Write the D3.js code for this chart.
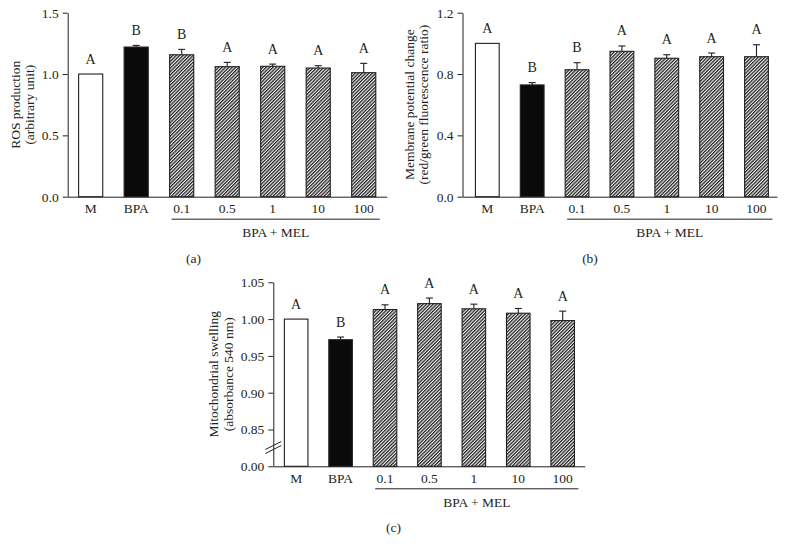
<!DOCTYPE html>
<html>
<head>
<meta charset="utf-8">
<script src="https://cdn.jsdelivr.net/npm/d3@7"></script>
<style>
  html, body { margin: 0; padding: 0; background: #fff; }
  svg { display: block; }
  text { font-family: "Liberation Serif", "DejaVu Serif", serif; fill: #231f20; }
</style>
</head>
<body>
<svg id="chart" width="791" height="553"></svg>
<script>
// ---------- data ----------
const categories = ["M", "BPA", "0.1", "0.5", "1", "10", "100"];
const groupLabel = "BPA + MEL";

const rosValues  = [1.000, 1.220, 1.157, 1.060, 1.063, 1.049, 1.011];
const rosErrors  = [0.000, 0.013, 0.044, 0.035, 0.018, 0.019, 0.076];
const rosLetters = ["A", "B", "B", "A", "A", "A", "A"];
const rosTicks   = [0.0, 0.5, 1.0, 1.5];
const rosTickLabels = ["0.0", "0.5", "1.0", "1.5"];

const mmpValues  = [1.000, 0.729, 0.828, 0.948, 0.903, 0.913, 0.913];
const mmpErrors  = [0.000, 0.015, 0.046, 0.035, 0.023, 0.024, 0.078];
const mmpLetters = ["A", "B", "B", "A", "A", "A", "A"];
const mmpTicks   = [0.0, 0.4, 0.8, 1.2];
const mmpTickLabels = ["0.0", "0.4", "0.8", "1.2"];

const swValues  = [1.000, 0.972, 1.013, 1.021, 1.014, 1.008, 0.998];
const swErrors  = [0.000, 0.0036, 0.0064, 0.0076, 0.0063, 0.0064, 0.0128];
const swLetters = ["A", "B", "A", "A", "A", "A", "A"];
const swTicks   = [0.80, 0.85, 0.90, 0.95, 1.00, 1.05];
const swTickLabels = ["0.00", "0.85", "0.90", "0.95", "1.00", "1.05"];

// ---------- drawing ----------
const svg = d3.select("#chart");
const defs = svg.append("defs");
const P = 2.4;
const pat = defs.append("pattern")
  .attr("id", "hatch")
  .attr("patternUnits", "userSpaceOnUse")
  .attr("width", P).attr("height", P)
  .attr("patternTransform", "rotate(45)");
pat.append("rect").attr("width", P).attr("height", P).attr("fill", "#f4f4f4");
pat.append("rect").attr("x", 0).attr("y", 0).attr("width", 1.25).attr("height", P)
  .attr("fill", "#1e1e1e");

const FS = 13.5;

function panel(cfg) {
  const g = svg.append("g");
  const x = d3.scaleBand().domain(categories)
    .range([cfg.left, cfg.right])
    .paddingInner(0.47).paddingOuter(0.24).align(cfg.align);
  const y = d3.scaleLinear().domain(cfg.domain).range([cfg.bottom, cfg.top]);
  const base = cfg.domain[0];
  const bw = x.bandwidth();

  // y axis
  const yAxis = d3.axisLeft(y).tickValues(cfg.ticks)
    .tickFormat((d, i) => cfg.tickLabels[i])
    .tickSize(5).tickSizeOuter(0).tickPadding(4);
  const ya = g.append("g").attr("transform", `translate(${cfg.left},0)`).call(yAxis);
  ya.attr("font-family", null).attr("font-size", null);
  ya.selectAll("path, line").attr("stroke", "#231f20").attr("stroke-width", 1);
  ya.selectAll("text").attr("font-size", FS);

  // x axis
  const xAxis = d3.axisBottom(x).tickSize(0).tickSizeOuter(0).tickPadding(7);
  const xa = g.append("g").attr("transform", `translate(0,${cfg.bottom})`).call(xAxis);
  xa.attr("font-family", null).attr("font-size", null);
  xa.selectAll("path").attr("stroke", "#231f20").attr("stroke-width", 1);
  xa.selectAll("text").attr("font-size", FS);

  const fills = categories.map((c, i) => i === 0 ? "#fff" : (i === 1 ? "#0a0a0a" : "url(#hatch)"));

  // bars
  g.append("g").selectAll("rect").data(cfg.values).join("rect")
    .attr("x", (d, i) => x(categories[i]))
    .attr("y", d => y(d))
    .attr("width", bw)
    .attr("height", d => y(base) - y(d))
    .attr("fill", (d, i) => fills[i])
    .attr("stroke", "#231f20").attr("stroke-width", 1.1);

  // error bars (upper only)
  const eb = g.append("g").attr("stroke", "#231f20").attr("stroke-width", 1.1);
  cfg.values.forEach((v, i) => {
    const e = cfg.errors[i];
    if (!e) return;
    const cx = x(categories[i]) + bw / 2;
    eb.append("line").attr("x1", cx).attr("x2", cx).attr("y1", y(v)).attr("y2", y(v + e));
    eb.append("line").attr("x1", cx - 3.5).attr("x2", cx + 3.5).attr("y1", y(v + e)).attr("y2", y(v + e));
  });

  // significance letters
  g.append("g").selectAll("text").data(cfg.letters).join("text")
    .attr("x", (d, i) => x(categories[i]) + bw / 2)
    .attr("y", (d, i) => y(cfg.values[i] + cfg.errors[i]) - 10.5)
    .attr("text-anchor", "middle")
    .attr("font-size", FS + 0.5)
    .text(d => d);

  // group bracket
  const bx1 = x(categories[2]) + 2;
  const bx2 = x(categories[6]) + bw + 4;
  g.append("line").attr("x1", bx1).attr("x2", bx2)
    .attr("y1", cfg.bottom + 22.5).attr("y2", cfg.bottom + 22.5)
    .attr("stroke", "#231f20").attr("stroke-width", 1);
  g.append("text").attr("x", (bx1 + bx2) / 2).attr("y", cfg.bottom + 40.5)
    .attr("text-anchor", "middle").attr("font-size", FS).text(groupLabel);

  // panel label
  g.append("text").attr("x", cfg.labelX).attr("y", cfg.bottom + 66)
    .attr("text-anchor", "middle").attr("font-size", FS).text(cfg.panelLabel);

  // y label (two lines)
  const cy = (cfg.top + cfg.bottom) / 2;
  cfg.ylabel.forEach((t, k) => {
    g.append("text")
      .attr("transform", `translate(${cfg.ylabelX[k]},${cy}) rotate(-90)`)
      .attr("text-anchor", "middle").attr("font-size", FS).text(t);
  });

  // axis break
  if (cfg.axisBreak) {
    const by = cfg.breakY;
    [-2, 2].forEach(o => {
      g.append("line")
        .attr("x1", cfg.left - 8).attr("y1", by + o + 4)
        .attr("x2", cfg.left + 8).attr("y2", by + o - 4)
        .attr("stroke", "#231f20").attr("stroke-width", 1);
    });
  }
}

panel({
  left: 67.7, right: 386.7, align: 0.5, top: 12.7, bottom: 196.7,
  domain: [0, 1.5], ticks: rosTicks, tickLabels: rosTickLabels,
  values: rosValues, errors: rosErrors, letters: rosLetters,
  panelLabel: "(a)", labelX: 193.5,
  ylabel: ["ROS production", "(arbitrary unit)"], ylabelX: [20, 34]
});

panel({
  left: 462.5, right: 777, align: 0.6, top: 12.7, bottom: 196.7,
  domain: [0, 1.2], ticks: mmpTicks, tickLabels: mmpTickLabels,
  values: mmpValues, errors: mmpErrors, letters: mmpLetters,
  panelLabel: "(b)", labelX: 590,
  ylabel: ["Membrane potential change", "(red/green fluorescence ratio)"], ylabelX: [414, 428]
});

panel({
  left: 273.3, right: 584.7, align: 0.52, top: 282.3, bottom: 466.3,
  domain: [0.80, 1.05], ticks: swTicks, tickLabels: swTickLabels,
  values: swValues, errors: swErrors, letters: swLetters,
  panelLabel: "(c)", labelX: 393.5,
  ylabel: ["Mitochondrial swelling", "(absorbance 540 nm)"], ylabelX: [218, 232.5],
  axisBreak: true, breakY: 447.5
});
</script>
</body>
</html>
